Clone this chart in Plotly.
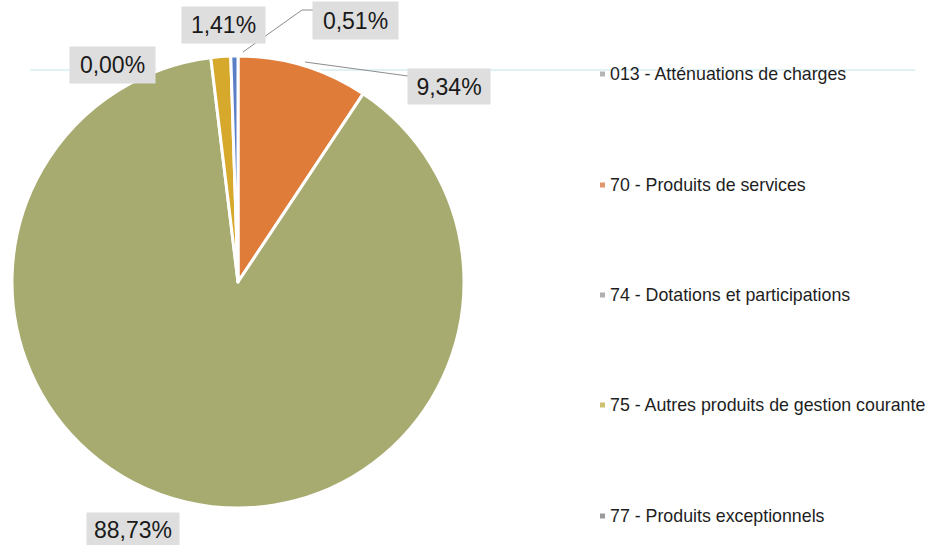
import plotly.graph_objects as go

# Recettes de fonctionnement par chapitre (parts en %)
categories = [
    "013 - Atténuations de charges",
    "70 - Produits de services",
    "74 - Dotations et participations",
    "75 - Autres produits de gestion courante",
    "77 - Produits exceptionnels",
]
shares = [0.00, 9.34, 88.73, 1.41, 0.51]

slice_colors = ["#8fa7c9", "#e07c3a", "#a8ab70", "#d6a82c", "#5b7fc7"]
legend_marker_colors = ["#b5b5b5", "#e0956a", "#b0b0b0", "#cfc070", "#9a9a9a"]

W, H = 935, 545
cx, cy, r = 238, 282, 226

# label box centres (px) and leader lines (px)
label_pos = [(112, 65), (449, 86), (133, 530), (223, 25), (355, 21)]
label_box = [(85, 36), (82, 35), (92, 34), (83, 36), (85, 37)]
leaders = [
    [],
    [(305, 62), (408, 76)],
    [],
    [],
    [(243, 52), (302, 10), (314, 10)],
]

def fmt(v):
    return f"{v:.2f}%".replace(".", ",")

fig = go.Figure()
fig.add_trace(go.Pie(
    labels=categories,
    values=shares,
    sort=False,
    direction="clockwise",
    rotation=0,
    textinfo="none",
    hoverinfo="label+percent",
    marker=dict(colors=slice_colors, line=dict(color="white", width=3)),
    showlegend=False,
    domain=dict(x=[(cx - r) / W, (cx + r) / W],
                y=[(H - cy - r) / H, (H - cy + r) / H]),
))

shapes = []
# faint horizontal rule crossing the chart
shapes.append(dict(type="line", xref="paper", yref="paper",
                   x0=30 / W, x1=915 / W, y0=1 - 70 / H, y1=1 - 70 / H,
                   line=dict(color="#d6eef3", width=1.5), layer="below"))

for pts in leaders:
    for (x0, y0), (x1, y1) in zip(pts[:-1], pts[1:]):
        shapes.append(dict(type="line", xref="paper", yref="paper",
                           x0=x0 / W, x1=x1 / W, y0=1 - y0 / H, y1=1 - y1 / H,
                           line=dict(color="#8c8c8c", width=1)))

annotations = []
for v, (x, y), (bw, bh) in zip(shares, label_pos, label_box):
    annotations.append(dict(
        x=x / W, y=1 - y / H, xref="paper", yref="paper",
        text=fmt(v), showarrow=False,
        font=dict(family="Liberation Sans, Arial", size=23, color="#1a1a1a"),
        bgcolor="#dedede", borderpad=0, width=bw, height=bh,
        align="center", valign="middle",
        xanchor="center", yanchor="middle",
    ))

# legend column on the right
legend_y = [74, 185, 295, 405, 516]
for name, col, ly in zip(categories, legend_marker_colors, legend_y):
    shapes.append(dict(type="rect", xref="paper", yref="paper",
                       x0=600 / W, x1=605 / W,
                       y0=1 - (ly + 2.5) / H, y1=1 - (ly - 2.5) / H,
                       fillcolor=col, line=dict(width=0)))
    annotations.append(dict(
        x=608 / W, y=1 - ly / H, xref="paper", yref="paper",
        text=name, showarrow=False,
        font=dict(family="Liberation Sans, Arial", size=17.8, color="#1e1e1e"),
        xanchor="left", yanchor="middle",
    ))

fig.update_layout(
    width=W, height=H,
    margin=dict(l=0, r=0, t=0, b=0),
    paper_bgcolor="white", plot_bgcolor="white",
    shapes=shapes, annotations=annotations,
)

fig.write_html("out.html")
